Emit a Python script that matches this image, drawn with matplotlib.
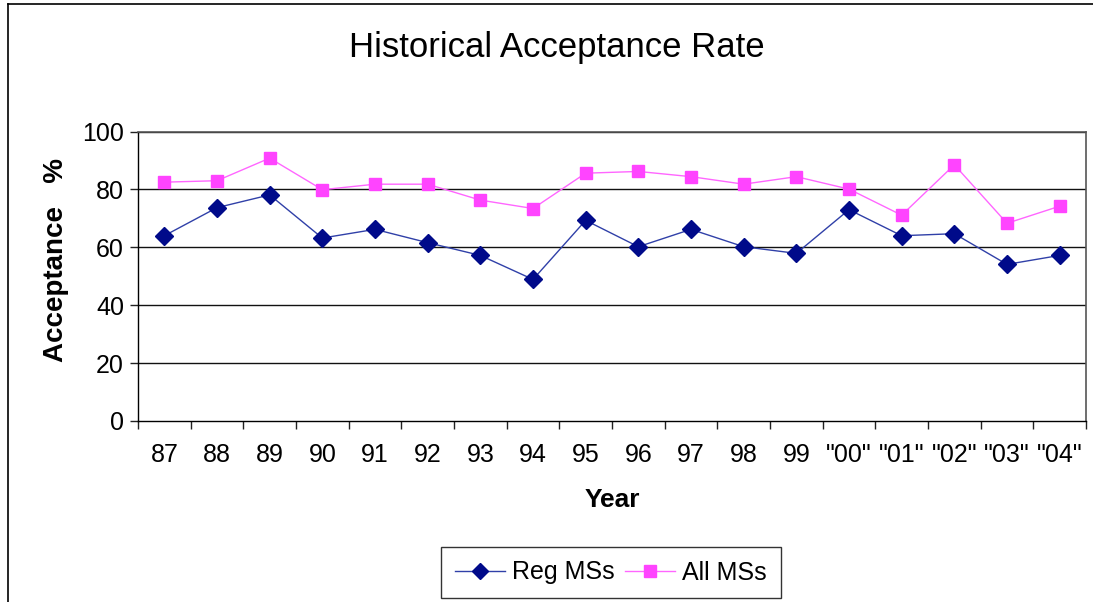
import matplotlib
matplotlib.use("Agg")
import matplotlib.pyplot as plt
from matplotlib import font_manager as fm
from matplotlib.lines import Line2D

years = ["87", "88", "89", "90", "91", "92", "93", "94", "95", "96", "97", "98", "99",
         '"00"', '"01"', '"02"', '"03"', '"04"']
reg_mss = [64.0, 73.7, 78.1, 63.2, 66.2, 61.6, 57.2, 48.9, 69.3, 60.2, 66.2, 60.2, 57.9,
           73.0, 64.0, 64.7, 54.1, 57.2]
all_mss = [82.5, 83.0, 90.8, 79.9, 81.8, 81.8, 76.3, 73.4, 85.6, 86.2, 84.4, 81.8, 84.4,
           80.1, 71.1, 88.5, 68.3, 74.2]
y_ticks = [0, 20, 40, 60, 80, 100]


def has_font(name):
    try:
        fm.findfont(fm.FontProperties(family=name), fallback_to_default=False)
        return True
    except Exception:
        return False


narrow = "Liberation Sans Narrow" if has_font("Liberation Sans Narrow") else "Liberation Sans"
plt.rcParams["font.family"] = [narrow, "DejaVu Sans"]

W, H = 1093, 602
fig = plt.figure(figsize=(W / 100, H / 100), dpi=100)
ax = fig.add_axes([138 / W, 1 - 421 / H, (1086 - 138) / W, (421 - 131.5) / H])

x = list(range(len(years)))
ax.plot(x, reg_mss, color="#3040a8", lw=1.0, marker="D", markersize=9,
        markerfacecolor="#000a8a", markeredgecolor="#000a8a", label="Reg MSs", zorder=3)
ax.plot(x, all_mss, color="#ff66ff", lw=1.0, marker="s", markersize=9,
        markerfacecolor="#ff44ff", markeredgecolor="#ff44ff", label="All MSs", zorder=3)

ax.set_xlim(-0.5, len(years) - 0.5)
ax.set_ylim(0, 100)
ax.set_yticks(y_ticks)
ax.set_yticklabels([str(v) for v in y_ticks], fontsize=18)
ax.set_xticks(x)
ax.set_xticklabels(years, fontsize=18)
ax.tick_params(axis="x", which="major", length=0, pad=16)
ax.set_xticks([i - 0.5 for i in range(len(years) + 1)], minor=True)
ax.tick_params(axis="x", which="minor", length=6, width=1, color="#222222", direction="out")
ax.tick_params(axis="y", length=6, width=1, color="#222222", direction="out", pad=4)

for v in y_ticks[1:]:
    ax.axhline(v, color="#111111", lw=1.0, zorder=1)

for s in ["left", "bottom"]:
    ax.spines[s].set_color("#000000")
    ax.spines[s].set_linewidth(1.0)
for s in ["top", "right"]:
    ax.spines[s].set_color("#555555")
    ax.spines[s].set_linewidth(1.2)

ax.set_xlabel("Year", fontsize=19, fontweight="bold", labelpad=15)
ax.set_ylabel("Acceptance   %", fontsize=20, fontweight="bold")
ax.yaxis.set_label_coords(-0.073, 0.556)

fig.text(557 / W, 1 - 47 / H, "Historical Acceptance Rate", fontsize=25,
         ha="center", va="center")

leg = ax.legend(loc="center", bbox_to_anchor=((611 - 138) / (1086 - 138), (421 - 572.5) / (421 - 131.5)),
                ncol=2, frameon=True, fancybox=False, fontsize=18, handlelength=2.0,
                columnspacing=0.4, handletextpad=0.3, borderpad=0.55, markerscale=0.9)
leg.get_frame().set_edgecolor("#000000")
leg.get_frame().set_linewidth(1.0)

# outer chart border (clipped at right and bottom)
fig.add_artist(Line2D([8 / W, 1.0], [1 - 4 / H, 1 - 4 / H], transform=fig.transFigure,
                      color="#000000", lw=1.2))
fig.add_artist(Line2D([8 / W, 8 / W], [0.0, 1 - 4 / H], transform=fig.transFigure,
                      color="#000000", lw=1.2))

fig.savefig("out.png", dpi=100)
